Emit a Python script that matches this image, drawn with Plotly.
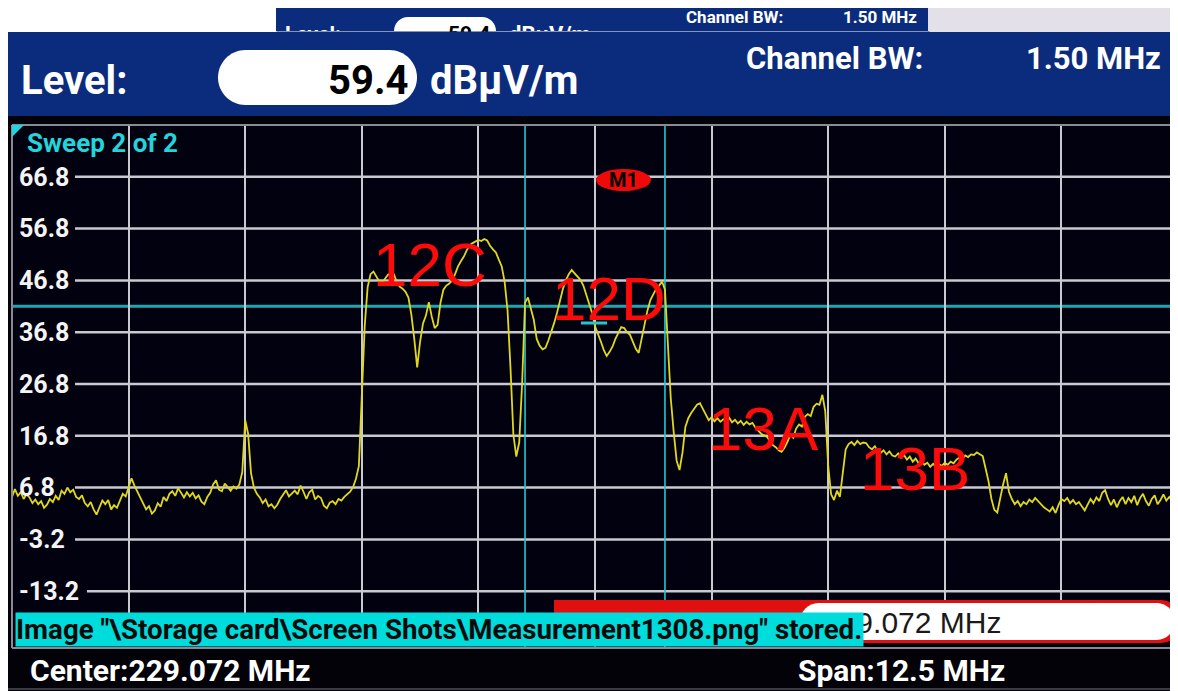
import numpy as np
import plotly.graph_objects as go

# ---------------- data ----------------
CENTER_MHZ = 229.072
SPAN_MHZ = 12.5
CHANNEL_BW_MHZ = 1.50
LEVEL_DBUV = 59.4
THRESHOLD_DB = 41.8
Y_RANGE = [-23.2, 76.8]
Y_TICKS = [66.8, 56.8, 46.8, 36.8, 26.8, 16.8, 6.8, -3.2, -13.2]
CHANNEL_LABELS = ["12C", "12D", "13A", "13B"]

# trace levels (dBuV/m), 401 sweep points evenly spaced over the span
LEVELS_DB = [
    5.0, 6.5, 5.2, 5.9, 4.6, 5.5, 4.9, 3.8, 4.5, 3.6,
    4.2, 2.9, 3.5, 4.6, 4.0, 5.2, 4.4, 6.2, 5.6, 6.8,
    5.9, 6.4, 5.0, 4.6, 5.3, 3.8, 3.2, 4.0, 2.6, 1.6,
    3.0, 4.3, 3.6, 4.4, 2.6, 3.4, 2.9, 4.4, 5.6, 5.1,
    6.8, 8.6, 7.2, 6.0, 4.8, 3.6, 2.6, 3.2, 1.8, 2.4,
    3.8, 3.1, 5.0, 4.2, 5.6, 6.1, 5.2, 6.7, 5.8, 4.9,
    5.9, 5.1, 5.8, 4.7, 5.3, 4.1, 3.6, 5.0, 5.8, 7.4,
    8.2, 6.4, 6.1, 7.6, 6.9, 6.2, 7.0, 6.6, 7.4, 9.8,
    19.8, 17.2, 9.6, 6.8, 5.6, 4.9, 3.8, 4.5, 3.2, 3.6,
    2.8, 3.5, 4.6, 5.4, 6.3, 5.1, 5.7, 6.2, 5.5, 7.2,
    6.0, 4.6, 5.9, 6.4, 4.5, 5.2, 4.8, 3.3, 2.8, 3.9,
    4.2, 3.6, 4.6, 4.3, 5.0, 5.6, 6.0, 6.9, 8.5, 11.0,
    25.0, 38.0, 45.5, 48.0, 48.5, 47.4, 46.6, 46.4, 47.2, 47.9,
    48.3, 48.0, 46.5, 45.6, 45.2, 44.6, 43.5, 40.2, 35.5, 30.0,
    35.0, 38.5, 40.0, 42.6, 39.8, 37.6, 38.2, 42.5, 45.0, 45.8,
    46.2, 46.8, 48.0, 49.5, 50.5, 51.4, 52.6, 53.6, 54.0, 54.3,
    54.6, 54.4, 54.8, 54.5, 53.5, 52.8, 52.2, 50.8, 49.5, 46.5,
    41.0, 30.0, 17.0, 12.8, 15.5, 27.0, 42.5, 43.5, 41.5, 39.2,
    35.5, 34.2, 33.5, 33.8, 35.2, 36.8, 38.6, 40.6, 43.0, 45.2,
    46.8, 48.0, 48.8, 48.2, 47.5, 46.9, 45.8, 44.0, 42.6, 40.5,
    38.0, 36.6, 35.0, 33.4, 32.2, 33.0, 34.0, 35.5, 36.8, 37.8,
    37.6, 36.8, 36.3, 35.0, 33.6, 32.8, 35.5, 38.6, 41.0, 43.0,
    44.2, 45.2, 45.8, 46.6, 45.0, 33.0, 24.0, 17.5, 12.0, 10.2,
    13.5, 18.5, 20.2, 21.2, 22.0, 22.8, 23.1, 22.0, 21.0, 19.8,
    20.4, 19.6, 20.2, 19.5, 20.0, 19.8, 20.3, 19.4, 19.9, 19.2,
    19.7, 18.9, 19.5, 19.0, 19.3, 18.4, 17.8, 17.2, 16.9, 16.6,
    15.8, 15.0, 14.6, 14.0, 13.7, 14.5, 15.6, 17.0, 16.4, 18.2,
    19.0, 18.6, 20.5, 21.0, 20.6, 22.4, 23.0, 22.8, 24.7, 21.5,
    11.0, 5.5, 4.4, 6.2, 5.0, 9.5, 14.2, 15.2, 15.6, 15.0,
    15.8, 15.2, 15.5, 15.4, 14.6, 14.2, 14.8, 13.8, 13.5, 14.0,
    13.2, 13.8, 13.0, 12.8, 13.4, 12.6, 13.1, 12.2, 12.8, 11.8,
    12.4, 11.5, 12.0, 11.2, 11.6, 10.8, 11.4, 10.8, 11.3, 11.0,
    11.6, 11.2, 11.8, 11.5, 12.2, 12.6, 12.3, 13.0, 12.7, 13.2,
    13.1, 13.6, 13.2, 12.9, 10.5, 8.0, 4.6, 2.5, 2.0, 4.8,
    7.4, 9.6, 6.0, 4.6, 3.6, 4.2, 3.2, 4.0, 3.6, 4.5,
    4.0, 4.8, 4.2, 3.4, 3.0, 2.6, 2.2, 3.0, 1.9, 3.4,
    4.6, 4.2, 4.8, 3.8, 4.4, 3.6, 4.0, 3.2, 2.4, 3.5,
    4.6, 3.8, 4.9, 4.2, 5.8, 6.3, 4.6, 3.4, 4.5, 3.0,
    4.2, 5.0, 3.6, 4.8, 4.0, 5.2, 3.4, 4.8, 5.6, 4.2,
    3.3, 4.6, 5.3, 3.6, 4.4, 5.5, 4.3, 5.0, 4.2, 3.5,
    3.9,
]

f_start = CENTER_MHZ - SPAN_MHZ / 2
f_stop = CENTER_MHZ + SPAN_MHZ / 2
freqs = np.linspace(f_start, f_stop, len(LEVELS_DB))
grid_freqs = [f_start + k * SPAN_MHZ / 10 for k in range(1, 10)]

# ---------------- styling / layout helpers ----------------
PAGE_W, PAGE_H = 1178, 691
OFF = 8  # default page margin around the figure
W, H = PAGE_W - OFF, PAGE_H - OFF


def X(p):
    return (p - OFF) / W


def Y(p):
    return 1 - (p - OFF) / H


BOLD = "Roboto, Liberation Sans, Arial, sans-serif"
SANS = "Liberation Sans, Arial, sans-serif"
HDR_BLUE = "#0b2c7d"
CYAN = "#1fc8d2"
PLOT_BG = "#01010f"

fig = go.Figure()
fig.add_trace(go.Scatter(
    x=freqs, y=LEVELS_DB, mode="lines",
    line=dict(color="#e0d81c", width=1.8), hoverinfo="skip", showlegend=False,
))

shapes = []


def rect(x0, y0, x1, y1, color, layer="below"):
    shapes.append(dict(type="rect", xref="paper", yref="paper",
                       x0=X(x0), x1=X(x1), y0=Y(y1), y1=Y(y0),
                       fillcolor=color, line=dict(width=0), layer=layer))


def pill(x0, y0, x1, y1, color, layer="below"):
    r = (y1 - y0) / 2
    k = 0.55 * r
    pts = [
        f"M{X(x0 + r)},{Y(y0)}", f"L{X(x1 - r)},{Y(y0)}",
        f"C{X(x1 - r + k)},{Y(y0)} {X(x1)},{Y(y0 + r - k)} {X(x1)},{Y(y0 + r)}",
        f"C{X(x1)},{Y(y1 - r + k)} {X(x1 - r + k)},{Y(y1)} {X(x1 - r)},{Y(y1)}",
        f"L{X(x0 + r)},{Y(y1)}",
        f"C{X(x0 + r - k)},{Y(y1)} {X(x0)},{Y(y1 - r + k)} {X(x0)},{Y(y1 - r)}",
        f"C{X(x0)},{Y(y0 + r - k)} {X(x0 + r - k)},{Y(y0)} {X(x0 + r)},{Y(y0)}", "Z",
    ]
    shapes.append(dict(type="path", xref="paper", yref="paper", path=" ".join(pts),
                       fillcolor=color, layer=layer, line=dict(width=0)))


# top strip
rect(0, 0, PAGE_W, 32, "#ffffff")
rect(928, 0, PAGE_W, 32, "#e3e0ea")
rect(276, 0, 928, 31, HDR_BLUE)
pill(394, 17, 496, 45, "#ffffff")
# main header
rect(3, 32, PAGE_W, 116, HDR_BLUE)
pill(218, 50, 417, 105, "#ffffff")

# horizontal grid lines
for v in Y_TICKS:
    x_start = 87 if v < -10 else 75
    shapes.append(dict(type="line", xref="paper", yref="y", x0=X(x_start), x1=X(1178),
                       y0=v, y1=v, line=dict(color="#c9c9d2", width=2.5), layer="below"))
# channel bandwidth and marker lines
for fv in [CENTER_MHZ - CHANNEL_BW_MHZ / 2, CENTER_MHZ, CENTER_MHZ + CHANNEL_BW_MHZ / 2]:
    shapes.append(dict(type="line", xref="x", yref="paper", x0=fv, x1=fv, y0=Y(648), y1=Y(125),
                       line=dict(color=CYAN, width=1.6), layer="below"))
shapes.append(dict(type="line", xref="paper", yref="y", x0=X(12), x1=X(1178),
                   y0=THRESHOLD_DB, y1=THRESHOLD_DB, line=dict(color="#1ea7b2", width=3), layer="below"))
shapes.append(dict(type="line", xref="paper", yref="paper", x0=X(581), x1=X(607), y0=Y(323), y1=Y(323),
                   line=dict(color=CYAN, width=3), layer="above"))
# frame
for (a, b, c, d) in [(12, 125, 12, 648), (12, 125, 1178, 125), (12, 648, 1178, 648)]:
    shapes.append(dict(type="line", xref="paper", yref="paper", x0=X(a), y0=Y(b), x1=X(c), y1=Y(d),
                       line=dict(color="#8a8a94", width=2), layer="above"))
# footer rule
shapes.append(dict(type="line", xref="paper", yref="paper", x0=X(0), y0=Y(689), x1=X(1178), y1=Y(689),
                   line=dict(color="#3a3a44", width=2), layer="above"))
# corner triangle
shapes.append(dict(type="path", xref="paper", yref="paper",
                   path=f"M{X(12)},{Y(125)} L{X(24)},{Y(125)} L{X(12)},{Y(137)} Z",
                   fillcolor="#22d4dc", line=dict(width=0)))
# M1 marker
shapes.append(dict(type="circle", xref="paper", yref="paper", x0=X(596), x1=X(651), y0=Y(191), y1=Y(169),
                   fillcolor="#ee0a0a", line=dict(width=0)))
# bottom readout box
rect(554, 600, 1140, 643, "#e01010", layer="above")
pill(1080, 600, 1182, 643, "#e01010", layer="above")
pill(800, 603, 1175, 640, "#ffffff", layer="above")
fig.update_layout(shapes=shapes)

ann = []


def text(x, y, s, size, color="white", font=BOLD, weight="bold", xanchor="left", yanchor="middle", **kw):
    ann.append(dict(x=X(x), y=Y(y), xref="paper", yref="paper", text=s, showarrow=False,
                    xanchor=xanchor, yanchor=yanchor,
                    font=dict(family=font, size=size, color=color, weight=weight), **kw))


# small header copy (cut off by the main header)
text(283, 34, "Level:", 21)
text(492, 34, f"{LEVEL_DBUV}", 21, color="black", xanchor="right")
text(507, 34, "dBµV/m", 22)
text(684, 17, "Channel BW:", 17)
text(841, 17, f"{CHANNEL_BW_MHZ:.2f} MHz", 17)
ann.append(dict(x=X(276), y=Y(31), xref="paper", yref="paper", xanchor="left", yanchor="top",
                text=" ", showarrow=False, width=652, height=16, bgcolor=HDR_BLUE, borderpad=0))

# main header
text(19, 80, "Level:", 40)
text(410, 80, f"{LEVEL_DBUV}", 40, color="black", xanchor="right")
text(428, 80, "dBµV/m", 40)
text(744, 59, "Channel BW:", 31)
text(1163, 59, f"{CHANNEL_BW_MHZ:.2f} MHz", 31, xanchor="right")

text(25, 143, "Sweep 2 of 2", 26, color="#22d4dc")
text(623, 180, "M1", 20, color="black", xanchor="center")

# channel labels
for lab, (lx, ly) in zip(CHANNEL_LABELS, [(371, 265), (550, 298), (706, 428), (858, 468)]):
    text(lx, ly, lab, 62, color="#ff0a0a", font=SANS, weight="normal")

# readout + status bar
text(821, 622, f"{CENTER_MHZ} MHz", 30, color="#1a1a1a", font=SANS, weight="normal")
ann.append(dict(x=X(15), y=Y(612), xref="paper", yref="paper", xanchor="left", yanchor="top",
                text=r'Image "\Storage card\Screen Shots\Measurement1308.png" stored.',
                showarrow=False, width=847, height=33, bgcolor="#00dcdc", borderpad=0, align="left",
                font=dict(family=BOLD, size=27.7, color="#0a0a0a", weight="bold")))

text(28, 670, f"Center:{CENTER_MHZ} MHz", 30)
text(796, 670, f"Span:{SPAN_MHZ} MHz", 30)

fig.update_layout(
    annotations=ann,
    width=W, height=H,
    margin=dict(l=0, r=0, t=0, b=0),
    paper_bgcolor="#020208",
    plot_bgcolor=PLOT_BG,
    showlegend=False,
    xaxis=dict(domain=[X(12), X(1178)], range=[f_start, f_stop], showgrid=True,
               tickvals=grid_freqs, showticklabels=False, ticks="",
               gridcolor="#c9c9d2", gridwidth=2, zeroline=False, showline=False, fixedrange=True),
    yaxis=dict(domain=[Y(643), Y(125)], range=Y_RANGE, showgrid=False, zeroline=False,
               tickvals=Y_TICKS, ticktext=[f"{v}" for v in Y_TICKS], ticks="",
               ticklabelposition="inside", ticklabelstandoff=4,
               tickfont=dict(family=BOLD, size=25, color="#f4f4f4", weight="bold"),
               showline=False, fixedrange=True),
)

fig.write_html("out.html")
